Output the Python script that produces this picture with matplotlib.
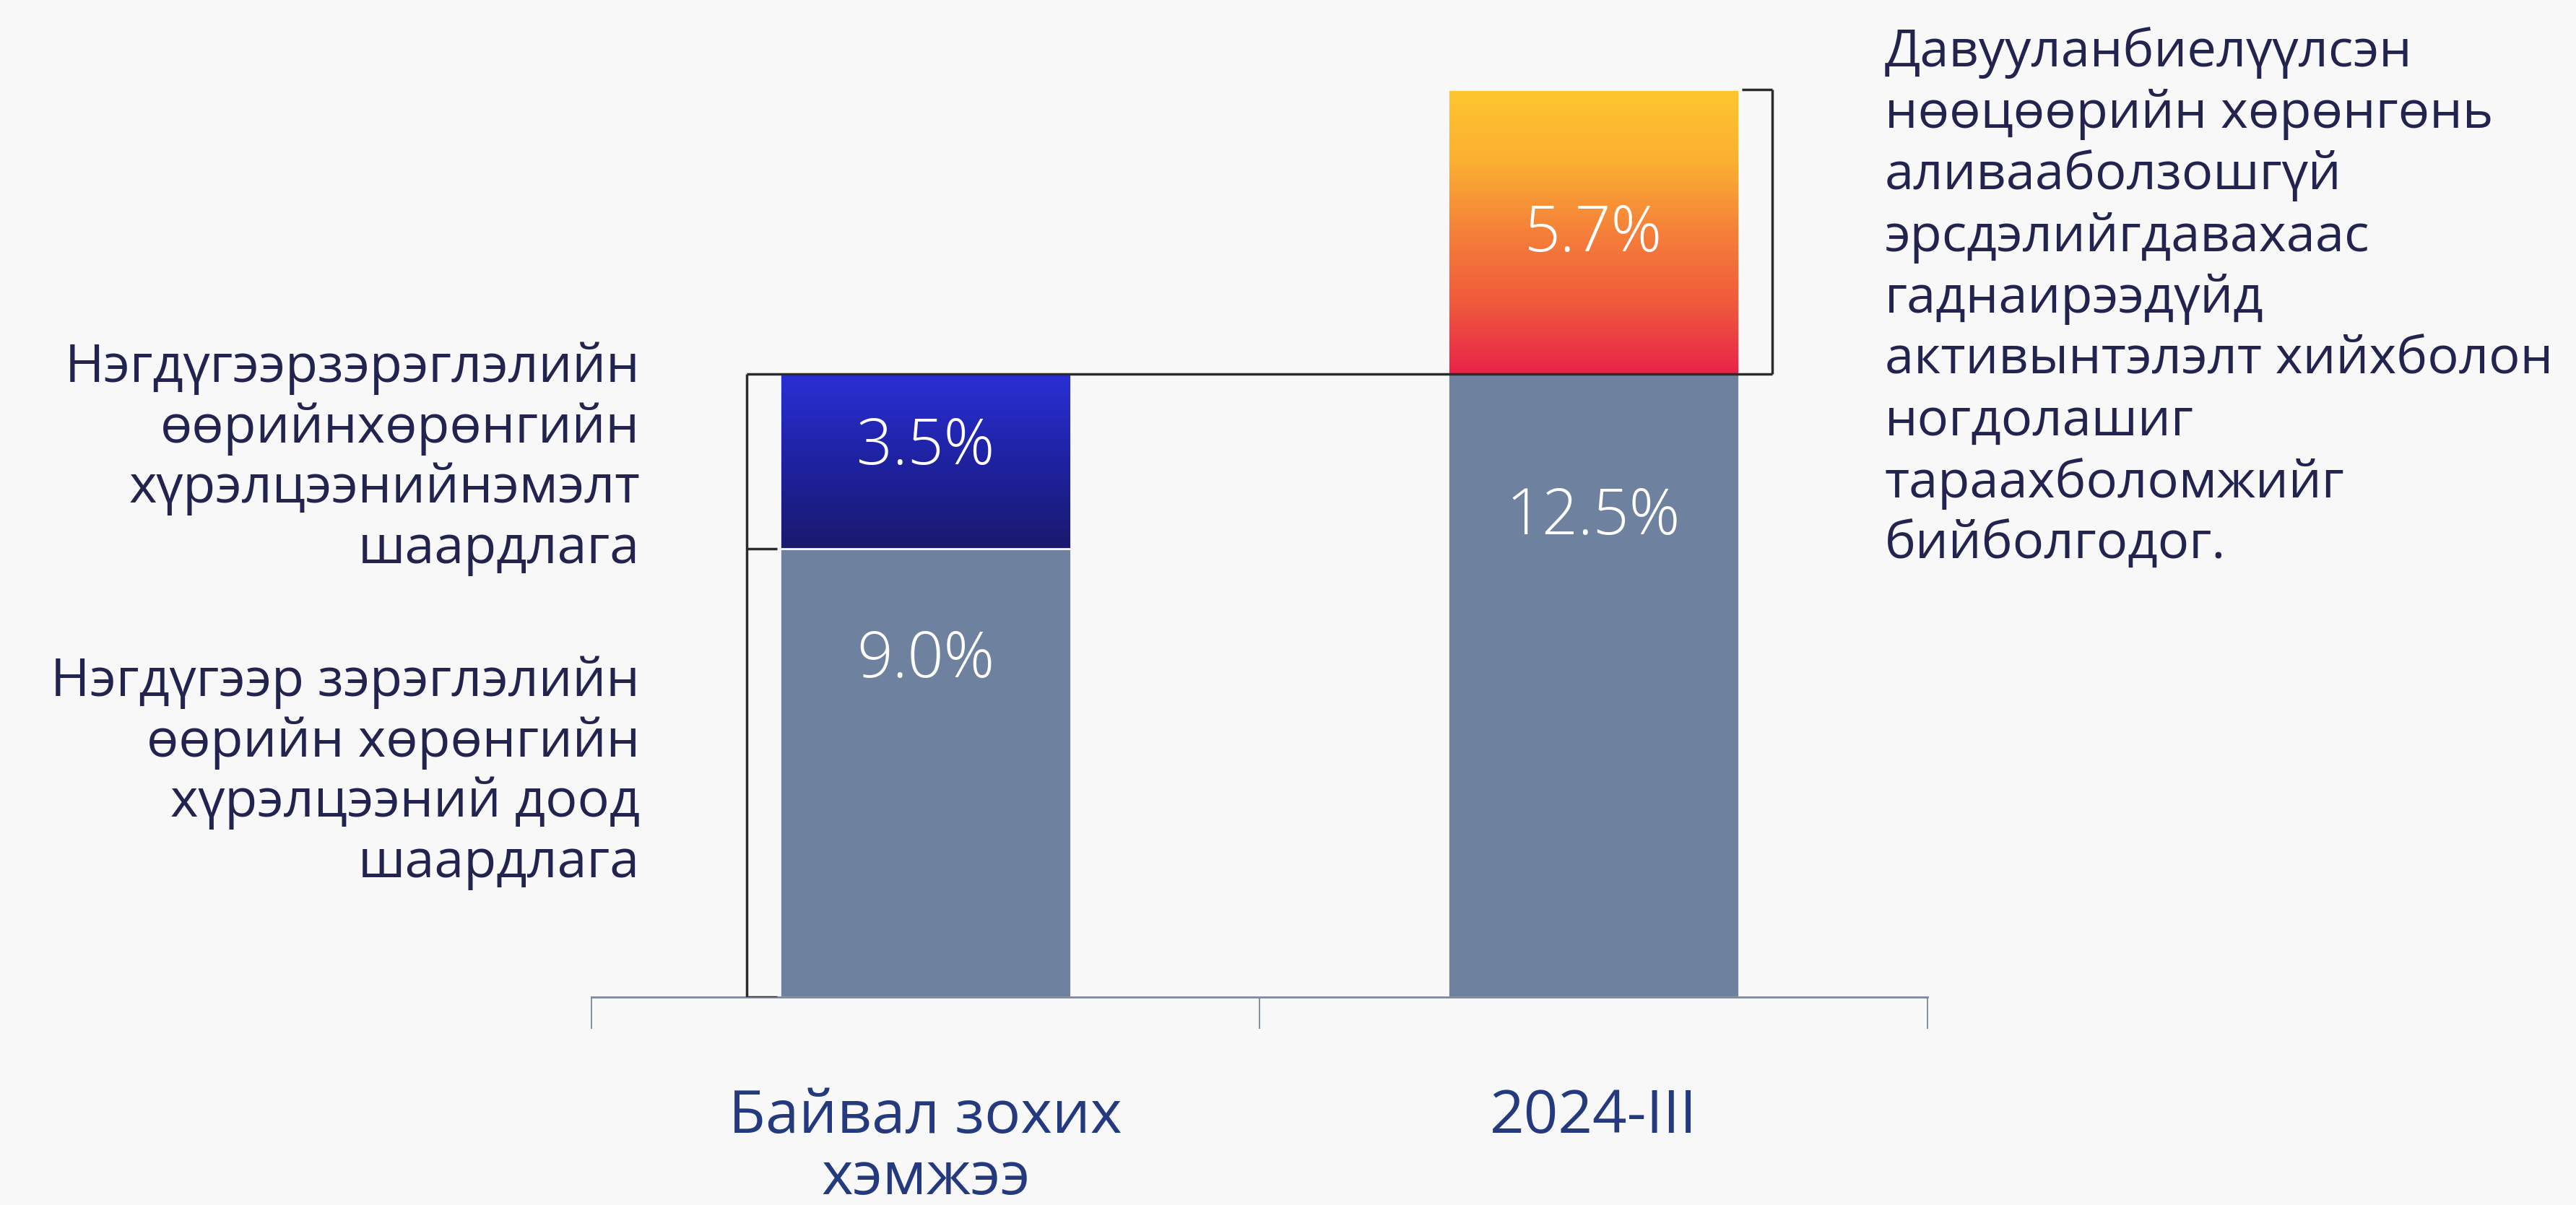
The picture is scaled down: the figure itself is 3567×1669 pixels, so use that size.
import numpy as np
import matplotlib.pyplot as plt
from matplotlib.colors import LinearSegmentedColormap
from matplotlib.transforms import blended_transform_factory

plt.rcParams['font.family'] = ['Open Sans', 'DejaVu Sans']

# data
categories = ['Байвал зохих\nхэмжээ', '2024-III']
base_vals = [9.0, 12.5]
top_vals = [3.5, 5.7]
base_labels = ['9.0%', '12.5%']
top_labels = ['3.5%', '5.7%']
note_upper = 'Нэгдүгээрзэрэглэлийн\nөөрийнхөрөнгийн\nхүрэлцээнийнэмэлт\nшаардлага'
note_lower = 'Нэгдүгээр зэрэглэлийн\nөөрийн хөрөнгийн\nхүрэлцээний доод\nшаардлага'
note_right = ('Давууланбиелүүлсэн\nнөөцөөрийн хөрөнгөнь\nаливааболзошгүй\n'
              'эрсдэлийгдавахаас\nгаднаирээдүйд\nактивынтэлэлт хийхболон\n'
              'ногдолашиг\nтараахболомжийг\nбийболгодог.')

bg = '#f8f8f8'
grey = '#6e819e'
navy = '#23234f'
line_c = '#2b2b2b'
blue_cm = LinearSegmentedColormap.from_list('blu', ['#19196e', '#1e22a0', '#2a2fd6'])
orange_cm = LinearSegmentedColormap.from_list('org', ['#e8234a', '#f05a3c', '#f5803a', '#fbb032', '#fec62d'])

fig = plt.figure(figsize=(35.67, 16.69), dpi=100, facecolor=bg)
ax = fig.add_axes([0.2296, 0.1725, 0.5187, 0.8275])
ax.set_facecolor(bg)

x = np.arange(len(categories))
w = 0.435
bars_base = ax.bar(x, base_vals, w, color=grey, edgecolor=bg, linewidth=2, zorder=2)
bars_top = ax.bar(x, top_vals, w, bottom=base_vals, color='none', edgecolor=bg,
                  linewidth=2, zorder=3)

# gradient fills for the upper segments
grad = np.linspace(0, 1, 256).reshape(-1, 1)
for p, cm in zip(bars_top, [blue_cm, orange_cm]):
    x0, y0 = p.get_x(), p.get_y()
    im = ax.imshow(grad, extent=[x0, x0 + p.get_width(), y0, y0 + p.get_height()],
                   origin='lower', cmap=cm, aspect='auto', zorder=2.5)
    im.set_clip_path(p)

# value labels
lab_kw = dict(ha='center', va='center', color='white', fontsize=63, fontweight='light', zorder=5)
for i, p in enumerate(bars_base):
    frac = [0.75, 0.77][i]
    ax.text(p.get_x() + w / 2, p.get_y() + p.get_height() * frac, base_labels[i], **lab_kw)
for i, p in enumerate(bars_top):
    frac = [0.58, 0.49][i]
    ax.text(p.get_x() + w / 2, p.get_y() + p.get_height() * frac, top_labels[i], **lab_kw)

# brackets
gap, tick = 0.05, 0.045
lx = x[0] - w / 2 - gap
rx = x[1] + w / 2 + gap
total0 = base_vals[0] + top_vals[0]
total1 = base_vals[1] + top_vals[1]
bk = dict(color=line_c, lw=2.5, zorder=4, solid_capstyle='butt')
ax.plot([lx, lx], [0, total0], **bk)
for yy in [0, base_vals[0]]:
    ax.plot([lx, lx + tick], [yy, yy], **bk)
ax.plot([lx, rx], [total0, total0], **bk)
ax.plot([rx, rx], [base_vals[1], total1], **bk)
ax.plot([rx - tick, rx], [total1, total1], **bk)

ax.set_xlim(-0.5, 1.5)
ax.set_ylim(0, 20)

# axis styling
for s in ['left', 'top', 'right']:
    ax.spines[s].set_visible(False)
ax.spines['bottom'].set_color('#7d889c')
ax.spines['bottom'].set_linewidth(2)
ax.set_yticks([])
ax.set_xticks([-0.5, 0.5, 1.5])
ax.set_xticklabels(['', '', ''])
ax.tick_params(axis='x', which='major', length=32, width=1.3, color='#7d889c')
ax.set_xticks(x, minor=True)
ax.set_xticklabels(categories, minor=True, fontsize=60, color='#24397e', linespacing=1.05)
ax.tick_params(axis='x', which='minor', length=0, pad=90)

# side notes
tr = blended_transform_factory(fig.transFigure, ax.transData)
ax.text(0.2484, base_vals[0] + top_vals[0] / 2 + 0.05, note_upper, transform=tr,
        ha='right', va='center', fontsize=53, color=navy, linespacing=1.17)
ax.text(0.2484, base_vals[0] / 2, note_lower, transform=tr,
        ha='right', va='center', fontsize=53, color=navy, linespacing=1.17)
fig.text(0.7317, 0.978, note_right, ha='left', va='top', fontsize=52, color=navy,
         linespacing=1.25)

fig.savefig('out.png', dpi=100, facecolor=bg)
